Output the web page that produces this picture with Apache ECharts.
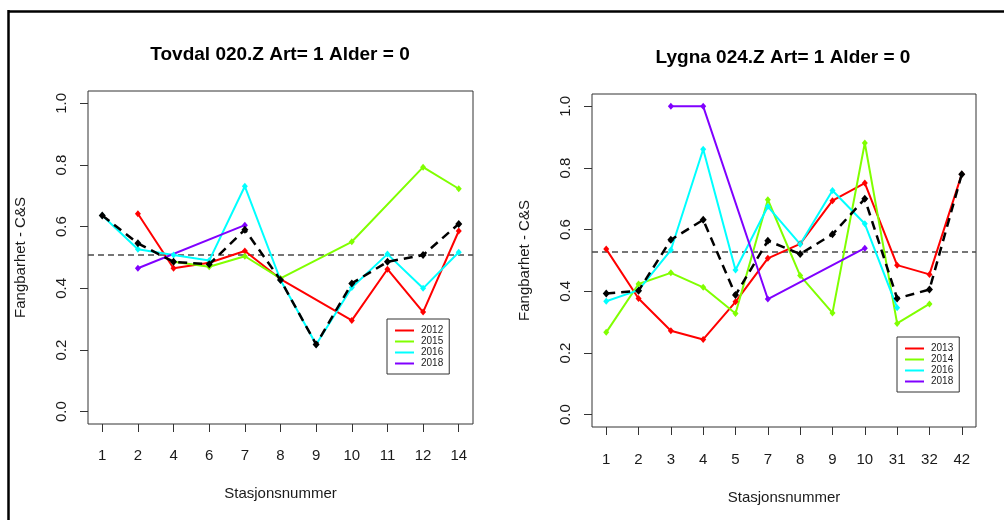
<!DOCTYPE html>
<html>
<head>
<meta charset="utf-8">
<script src="https://cdn.jsdelivr.net/npm/echarts@6/dist/echarts.min.js"></script>
<style>
  html, body { margin: 0; padding: 0; background: #fff; }
  #chart { width: 1004px; height: 520px; }
</style>
</head>
<body>
<div id="chart"></div>
<script>
// Tovdal 020.Z: catchability per station and year
const stationsTovdal = ['1', '2', '4', '6', '7', '8', '9', '10', '11', '12', '14'];
const tovdal2012 = [null, 0.642, 0.465, 0.483, 0.521, 0.430, null, 0.296, 0.462, 0.323, 0.586];
const tovdal2015 = [null, null, 0.486, 0.470, 0.504, 0.432, null, 0.551, null, 0.793, 0.723];
const tovdal2016 = [0.636, 0.527, 0.508, 0.490, 0.731, 0.427, 0.218, 0.403, 0.511, 0.400, 0.517];
const tovdal2018 = [null, 0.465, null, null, 0.605, null, null, null, null, null, null];
const tovdalMean = [0.636, 0.546, 0.486, 0.478, 0.590, 0.427, 0.218, 0.416, 0.486, 0.508, 0.609];
const tovdalOverall = 0.506;

// Lygna 024.Z: catchability per station and year
const stationsLygna = ['1', '2', '3', '4', '5', '7', '8', '9', '10', '31', '32', '42'];
const lygna2013 = [0.537, 0.377, 0.272, 0.244, 0.366, 0.507, 0.554, 0.694, 0.751, 0.485, 0.455, 0.780];
const lygna2014 = [0.267, 0.424, 0.460, 0.413, 0.328, 0.697, 0.451, 0.330, 0.881, 0.296, 0.359, null];
const lygna2016 = [0.368, 0.404, 0.534, 0.861, 0.469, 0.675, 0.553, 0.727, 0.619, 0.347, null, null];
const lygna2018 = [null, null, 1.000, 1.000, null, 0.375, null, null, 0.540, null, null, null];
const lygnaMean = [0.393, 0.402, 0.567, 0.632, 0.388, 0.564, 0.521, 0.585, 0.700, 0.377, 0.406, 0.780];
const lygnaOverall = 0.525;

const yTicks = [0, 0.2, 0.4, 0.6, 0.8, 1.0];

const YEAR_COLORS = {
  '2012': '#FF0000', '2013': '#FF0000',
  '2014': '#80FF00', '2015': '#80FF00',
  '2016': '#00FFFF', '2018': '#8000FF'
};
const FONT = '"Liberation Sans", Arial, sans-serif';
const TEXT = '#1a1a1a';

// station index (1-based) paired with value; missing stations are skipped
function toPairs(values) {
  const out = [];
  values.forEach((v, i) => { if (v !== null) out.push([i + 1, v]); });
  return out;
}

function xAxisFor(gridIndex, stations, margin, nameGap) {
  const n = stations.length;
  const pad = (n - 1) * 0.04;
  const positions = stations.map((s, i) => i + 1);
  return {
    type: 'value', gridIndex: gridIndex,
    min: 1 - pad, max: n + pad,
    splitLine: { show: false },
    axisLine: { show: false, onZero: false },
    axisTick: { show: true, inside: false, length: 8, customValues: positions,
                lineStyle: { color: '#333', width: 1 } },
    axisLabel: { show: true, customValues: positions, margin: margin,
                 formatter: v => stations[Math.round(v) - 1] || '',
                 fontFamily: FONT, fontSize: 15, color: TEXT },
    name: 'Stasjonsnummer', nameLocation: 'middle', nameGap: nameGap,
    nameTextStyle: { fontFamily: FONT, fontSize: 15, color: TEXT }
  };
}

function yAxisFor(gridIndex) {
  return {
    type: 'value', gridIndex: gridIndex,
    min: -0.04, max: 1.04,
    splitLine: { show: false },
    axisLine: { show: false, onZero: false },
    axisTick: { show: true, inside: false, length: 8, customValues: yTicks,
                lineStyle: { color: '#333', width: 1 } },
    axisLabel: { show: true, customValues: yTicks, rotate: 90, margin: 19,
                 formatter: v => v.toFixed(1),
                 fontFamily: FONT, fontSize: 15, color: TEXT },
    name: 'Fangbarhet - C&S', nameLocation: 'middle', nameGap: 60, nameRotate: 90,
    nameTextStyle: { fontFamily: FONT, fontSize: 15, color: TEXT }
  };
}

function yearSeries(name, values, axis) {
  return {
    name: name, type: 'line',
    xAxisIndex: axis, yAxisIndex: axis,
    data: toPairs(values),
    color: YEAR_COLORS[name],
    lineStyle: { width: 2, color: YEAR_COLORS[name] },
    itemStyle: { color: YEAR_COLORS[name] },
    symbol: 'diamond', symbolSize: [6, 7], showSymbol: true,
    silent: true, z: 3
  };
}

function meanSeries(values, axis, overall) {
  return {
    name: 'mean', type: 'line',
    xAxisIndex: axis, yAxisIndex: axis,
    data: toPairs(values),
    lineStyle: { width: 2.5, color: '#000', type: [9, 6] },
    itemStyle: { color: '#000' },
    symbol: 'diamond', symbolSize: [7, 8],
    silent: true, z: 5,
    markLine: {
      silent: true, symbol: 'none', label: { show: false },
      lineStyle: { color: '#4a4a4a', type: [6, 4], width: 1.5 },
      data: [{ yAxis: overall }],
      z: 1
    }
  };
}

function legendFor(names, left, top) {
  return {
    orient: 'vertical', left: left, top: top,
    data: names,
    icon: 'rect', itemWidth: 19, itemHeight: 2, itemGap: 0,
    padding: [6, 6, 5, 8],
    borderColor: '#333', borderWidth: 1, backgroundColor: '#fff',
    textStyle: { fontFamily: FONT, fontSize: 10, lineHeight: 11, color: TEXT, padding: [0, 0, 0, 2] },
    selectedMode: false
  };
}

const chart = echarts.init(document.getElementById('chart'), null, { renderer: 'canvas' });

chart.setOption({
  animation: false,
  backgroundColor: '#fff',
  title: [
    { text: 'Tovdal 020.Z Art= 1 Alder = 0', left: 275, top: 40, textAlign: 'center',
      textStyle: { fontFamily: FONT, fontSize: 19, fontWeight: 'bold', color: '#000' } },
    { text: 'Lygna 024.Z Art= 1 Alder = 0', left: 778, top: 43, textAlign: 'center',
      textStyle: { fontFamily: FONT, fontSize: 19, fontWeight: 'bold', color: '#000' } }
  ],
  grid: [
    { left: 88, top: 91, width: 385, height: 333, show: true,
      borderColor: '#333', borderWidth: 1, backgroundColor: 'transparent' },
    { left: 592, top: 94, width: 384, height: 333, show: true,
      borderColor: '#333', borderWidth: 1, backgroundColor: 'transparent' }
  ],
  xAxis: [xAxisFor(0, stationsTovdal, 24, 62), xAxisFor(1, stationsLygna, 25, 63)],
  yAxis: [yAxisFor(0), yAxisFor(1)],
  legend: [
    legendFor(['2012', '2015', '2016', '2018'], 387, 319),
    legendFor(['2013', '2014', '2016', '2018'], 897, 337)
  ],
  graphic: [
    { type: 'line', shape: { x1: 8, y1: 11.5, x2: 1004, y2: 11.5 },
      style: { stroke: '#000', lineWidth: 2.5 }, silent: true },
    { type: 'line', shape: { x1: 8.5, y1: 10, x2: 8.5, y2: 520 },
      style: { stroke: '#000', lineWidth: 2.5 }, silent: true }
  ],
  series: [
    yearSeries('2012', tovdal2012, 0),
    yearSeries('2015', tovdal2015, 0),
    yearSeries('2016', tovdal2016, 0),
    yearSeries('2018', tovdal2018, 0),
    meanSeries(tovdalMean, 0, tovdalOverall),
    yearSeries('2013', lygna2013, 1),
    yearSeries('2014', lygna2014, 1),
    yearSeries('2016', lygna2016, 1),
    yearSeries('2018', lygna2018, 1),
    meanSeries(lygnaMean, 1, lygnaOverall)
  ]
});
</script>
</body>
</html>
